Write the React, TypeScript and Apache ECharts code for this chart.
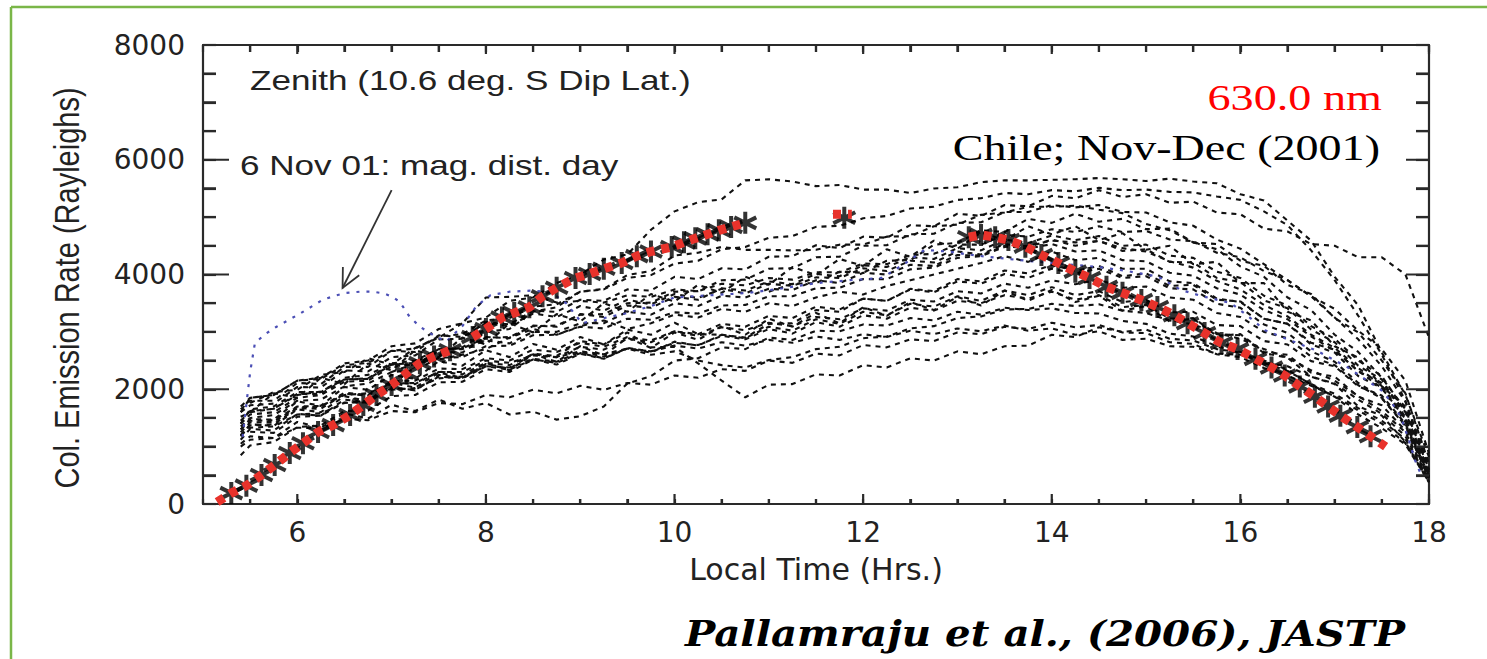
import React, { useEffect, useRef } from 'react';
import * as echarts from 'echarts';

// ---------- time grid of the nightly curves (hours, local time) ----------
const hours = [
  5.4, 5.5, 5.75, 6.0, 6.25, 6.5, 6.75, 7.0, 7.25, 7.5,
  7.75, 8.0, 8.25, 8.5, 8.75, 9.0, 9.25, 9.5, 9.75, 10.0,
  10.25, 10.5, 10.75, 11.0, 11.25, 11.5, 11.75, 12.0, 12.25, 12.5,
  12.75, 13.0, 13.25, 13.5, 13.75, 14.0, 14.25, 14.5, 14.75, 15.0,
  15.25, 15.5, 15.75, 16.0, 16.25, 16.5, 16.75, 17.0, 17.25, 17.5,
  17.75, 18.0,
];

// ---------- daily column emission rates (Rayleighs) ----------
const day01 = [1180,1390,1360,1650,1600,1880,1790,2110,2030,2290, 2200,2460,2330,2610,2480,2750,2590,2900,2720,2990, 2860,3100,2950,3230,3090,3330,3150,3430,3280,3520, 3380,3610,3460,3720,3540,3730,3520,3630,3370,3450, 3180,3230,2930,2960,2650,2600,2290,2220,1870,1720, 1280,560];
const day02 = [1520,1600,1930,1850,2200,2090,2450,2330,2680,2560, 2900,2780,3150,2990,3310,3180,3500,3350,3660,3530, 3820,3680,3960,3820,4130,3990,4270,4150,4440,4310, 4590,4450,4730,4600,4840,4700,4840,4600,4720,4430, 4500,4180,4220,3850,3850,3350,3200,2750,2550,2050, 1700,650];
const day03 = [1050,1180,1150,1430,1330,1580,1490,1730,1620,1820, 1660,1760,1560,1610,1470,1530,1700,2100,2230,2500, 2540,2730,2700,2900,2860,3020,3010,3130,3110,3240, 3200,3350,3300,3420,3380,3410,3330,3320,3190,3140, 2970,2920,2750,2650,2460,2320,2090,1920,1670,1450, 1130,420];
const day04 = [1300,1480,1470,1790,1710,2040,1990,2250,2180,2490, 2410,2680,2560,2790,2690,2910,2780,2990,2730,2740, 2450,2150,1860,2080,2090,2260,2240,2420,2380,2540, 2500,2660,2610,2750,2760,2950,2910,3080,3000,3040, 2880,2850,2700,2640,2500,2340,2080,1870,1560,1320, 1040,380];
const day05 = [null,1760,1950,1990,2250,2300,2540,2430,2720,2900, 3150,3250,3540,3600,3850,4000,4260,4350,4780,5100, 5260,5310,5640,5660,5620,5540,5560,5480,5480,5420, 5500,5520,5610,5640,5640,5650,5660,5680,5660,5630, 5670,5620,5590,5400,5290,4940,4590,3960,3460,2640, 1900,820];
const day06 = [1600,1720,1750,2040,2030,2330,2310,2560,2590,2870, 2880,3170,3130,3370,3350,3560,3540,3740,3720,3960, 3920,4110,4090,4310,4320,4510,4460,4660,4640,4860, 4840,5060,5020,5210,5190,5370,5330,5470,5350,5400, 5250,5270,5080,5050,4800,4750,4530,4500,4300,4300, 4000,2900];
const day07 = [1400,1560,1600,1850,1900,2130,2150,2400,2430,2670, 2730,3000,3050,3350,3430,3700,3750,3990,4060,4330, 4380,4480,4430,4430,4420,4430,4520,4520,4660,4670, 4840,4870,5040,5080,5180,5180,5200,5130,5070,4880, 4770,4560,4440,4140,3960,3600,3380,2950,2650,2200, 1650,600];
const day08 = [1700,1850,1900,2150,2180,2420,2460,2670,2710,2920, 2960,3200,3240,3440,3480,3700,3740,3940,3990,4190, 4240,4440,4480,4640,4670,4830,4850,4980,5020,5150, 5180,5300,5330,5420,5400,5470,5450,5510,5470,5480, 5440,5430,5360,5300,5100,4860,4420,3900,3280,2600, 1800,600];
const day09 = [1350,1500,1550,1800,1820,2050,2100,2300,2330,2550, 2560,2750,2760,2940,2950,3090,3060,3230,3210,3340, 3320,3460,3470,3620,3620,3760,3770,3920,3920,4090, 4120,4290,4320,4480,4500,4590,4560,4580,4460,4400, 4230,4120,3890,3740,3470,3270,2950,2720,2370,2070, 1480,480];
const day10 = [1250,1420,1430,1690,1690,1940,1900,2140,2150,2360, 2350,2540,2500,2690,2650,2810,2740,2910,2850,3010, 2930,3080,3030,3160,3100,3260,3220,3410,3370,3560, 3530,3710,3670,3840,3770,3900,3830,3910,3770,3790, 3600,3560,3330,3260,3000,2890,2570,2420,2070,1840, 1360,450];
const day11 = [1450,1620,1660,1920,1920,2170,2190,2440,2420,2660, 2640,2910,2890,3110,3090,3310,3260,3460,3420,3610, 3560,3760,3720,3880,3830,4010,3970,4160,4130,4300, 4270,4460,4420,4610,4550,4680,4600,4670,4500,4520, 4330,4290,4050,3940,3630,3460,3100,2880,2500,2230, 1610,550];
const day12 = [null,1260,1240,1520,1540,1770,1770,2020,1990,2220, 2190,2400,2340,2520,2460,2630,2540,2710,2640,2830, 2760,2950,2890,3090,3020,3220,3140,3350,3290,3490, 3440,3620,3540,3720,3640,3780,3640,3710,3520,3560, 3340,3350,3120,3100,2840,2780,2490,2400,2050,1890, 1400,500];
const day13 = [1600,1850,1900,2150,2200,2450,2500,2750,2800,3050, 3150,3600,3610,3640,3510,3540,3510,3640,3610,3740, 3710,3840,3810,3940,3910,4040,4040,4190,4180,4340, 4360,4520,4520,4690,4660,4790,4740,4840,4740,4760, 4610,4580,4380,4300,4060,3900,3620,3400,3020,2700, 2150,880];
const day14 = [1300,1450,1460,1700,1710,1900,1930,2100,2110,2300, 2300,2500,2460,2590,2560,2660,2610,2710,2660,2760, 2710,2820,2760,2860,2810,2920,2860,2960,2910,3020, 2960,3060,3010,3110,3020,3060,2950,3010,2860,2880, 2750,2740,2620,2600,2470,2400,2220,2100,1820,1570, 1180,400];
const day15 = [null,1600,1660,1900,1960,2170,2180,2430,2460,2700, 2710,2900,2910,3100,3110,3300,3310,3500,3510,3700, 3710,3900,3910,4100,4110,4300,4310,4500,4510,4700, 4710,4900,4910,5090,5090,5210,5170,5210,5090,5080, 4910,4850,4610,4450,4180,3900,3620,3250,2870,2400, 1780,650];
const day16 = [1200,1370,1390,1670,1660,1920,1890,2120,2090,2310, 2260,2460,2420,2610,2560,2740,2690,2880,2820,3010, 2960,3140,3090,3280,3240,3440,3390,3580,3540,3740, 3690,3880,3840,4010,3940,4100,4020,4100,3940,3970, 3760,3740,3490,3420,3130,2980,2660,2480,2110,1850, 1370,450];
const day17 = [1400,1650,1700,1950,1950,2200,2250,2450,2500,2700, 2700,2850,2800,3000,3000,3150,3150,3350,3300,3500, 3450,3630,3600,3750,3730,3900,3850,4030,4000,4170, 4150,4340,4330,4500,4450,4530,4400,4420,4250,4230, 4030,3980,3760,3650,3380,3220,2920,2670,2320,2020, 1480,500];
const day18 = [null,null,null,null,null,null,null,null,null,null, null,null,null,null,null,null,null,null,null,null, null,null,null,3700,3840,3850,4050,4030,4240,4250, 4520,4550,4770,4740,4970,4900,5060,4920,4970,4790, 4800,4560,4530,4240,4150,3820,3660,3240,2990,2500, 1930,700];
const day19 = [null,null,null,null,null,null,null,2300,2450,2520, 2600,2700,2900,3050,2950,3100,3200,3050,3150,3300, 3250,3400,3350,3500,3450,3600,3700,3650,3800,3900, 4000,4100,4200,4320,4220,4400,4250,4290,4100,4100, 3880,3850,3580,3520,3230,3140,2810,2690,2310,2110, 1600,550];
const day20 = [1650,1800,1800,2110,2090,2390,2390,2670,2650,2940, 2910,3150,3100,3320,3260,3450,3370,3560,3480,3660, 3590,3750,3670,3840,3800,3950,3940,4110,4060,4240, 4210,4400,4350,4530,4480,4610,4500,4590,4410,4440, 4220,4210,3940,3870,3550,3410,3040,2820,2410,2170, 1510,520];
const day21 = [850,1020,1080,1340,1370,1620,1630,1880,1900,2120, 2130,2350,2300,2520,2430,2620,2530,2720,2660,2810, 2770,2930,2870,3050,2970,3170,3090,3290,3230,3420, 3370,3540,3500,3640,3580,3700,3560,3640,3430,3470, 3230,3240,2960,2940,2630,2550,2220,2090,1700,1540, 1080,380];
const day22 = [1120,1310,1280,1570,1540,1820,1770,2040,1980,2250, 2190,2440,2360,2620,2580,2840,2780,3040,2950,3160, 2960,2950,2900,3140,3150,3380,3350,3580,3540,3750, 3710,3920,3880,4070,4020,4170,4060,4150,3970,4020, 3800,3820,3560,3530,3230,3140,2780,2640,2230,2020, 1430,470];
const day23 = [1000,1120,1150,1330,1320,1480,1460,1620,1600,1760, 1740,1900,1860,1990,1930,2060,1990,2110,2080,2240, 2200,2350,2320,2500,2460,2620,2590,2770,2730,2870, 2840,2990,2960,3090,3050,3160,3080,3120,2990,2980, 2820,2790,2610,2560,2370,2240,2060,1880,1630,1400, 1060,380];
const day24 = [1200,1330,1350,1560,1580,1760,1800,1990,2020,2190, 2220,2400,2380,2530,2480,2650,2570,2710,2600,2660, 2500,2420,2380,2510,2560,2700,2740,2890,2920,3060, 3100,3240,3270,3390,3400,3490,3450,3480,3370,3330, 3200,3130,2980,2880,2700,2550,2330,2150,1880,1620, 1250,430];

const dayCurves = [day01, day02, day03, day04, day05, day06, day07, day08, day09, day10, day11, day12,
  day13, day14, day15, day16, day17, day18, day19, day20, day21, day22, day23, day24];

// ---------- 6 Nov 01 (magnetically disturbed day) ----------
const blueHours = [5.42,5.45,5.5,5.55,5.65,5.78,5.9,6.03,6.15,6.27,6.4,6.52,6.66,6.8,6.92,7.01,7.08,7.12,7.19,7.3,
  7.44,7.58,7.75,7.9,8.05,8.25,8.5,8.7,8.85,9.02,9.25,9.48,9.75,10.0,10.4,10.79,11.15,11.5,11.85,12.2,
  12.45,12.65,12.9,13.2,13.6,14.0,14.5,14.8,15.13,15.37,15.6,15.9,16.1,16.26,16.5,16.8,17.13,17.3,17.49,17.6,
  17.7,17.78,17.85,17.93];
const blueValues = [1170,1600,2300,2800,2950,3090,3200,3320,3440,3560,3630,3680,3700,3700,3670,3610,3530,3440,3265,3090,
  2945,2830,3100,3450,3640,3700,3720,3680,3500,3150,3240,3320,3450,3600,3640,3680,3760,3850,3900,3940,
  4200,4430,4400,4330,4260,4200,4130,4060,3960,3730,3620,3500,3250,3030,2870,2680,2390,2200,1990,1780,
  1520,1150,770,450];

// ---------- average behaviour (asterisks + red dotted fit) ----------
const riseHours = [5.15,5.3,5.46,5.62,5.76,5.92,6.06,6.22,6.38,6.56,6.7,6.84,7.0,7.16,7.3,7.45,7.62];
const riseValues = [35,190,320,505,680,890,1060,1255,1375,1550,1725,1900,2075,2280,2455,2570,2680];
const morningHours = [7.86,8.0,8.17,8.3,8.46,8.6,8.75,8.95,9.1,9.25,9.44,9.6,9.75,9.97,10.1,10.22,10.35,10.47,10.6,10.75];
const morningValues = [2910,3050,3250,3330,3430,3620,3770,3940,4010,4100,4200,4320,4400,4480,4560,4630,4700,4770,4830,4900];
const noonHours = [11.68,11.88];
const noonValues = [5050,5050];
const noonStarHours = [11.8];
const noonStarValues = [4990];
const fallHours = [13.12,13.25,13.4,13.54,13.72,13.89,14.07,14.25,14.4,14.58,14.75,14.95,15.12,15.3,15.44,15.62,15.8,15.97,
  16.16,16.33,16.47,16.63,16.79,16.93,17.06,17.24,17.38,17.54];
const fallValues = [4650,4690,4650,4600,4485,4340,4200,4050,3940,3785,3680,3555,3435,3290,3150,2980,2805,2700,
  2530,2380,2240,2050,1870,1700,1540,1340,1180,1000];

// ---------- tick positions ----------
const majorHours = [6, 8, 10, 12, 14, 16, 18];
const minorHours = [5.5, 6.5, 7, 7.5, 8.5, 9, 9.5, 10.5, 11, 11.5, 12.5, 13, 13.5, 14.5, 15, 15.5, 16.5, 17, 17.5];
const majorRates = [2000, 4000, 6000];
const minorRates = [500, 1000, 1500, 2500, 3000, 3500, 4500, 5000, 5500, 6500, 7000, 7500];

const pairs = (xs: number[], ys: (number | null)[]) =>
  xs.map((x, i) => [x, ys[i]]).filter((p) => p[1] !== null && p[1] !== undefined);

const AXIS = '#2a2a2a';
const STAR = 'path://M10,0L10,20M1.34,5L18.66,15M1.34,15L18.66,5';
const GRID = { left: 203, right: 58, top: 45, bottom: 155 };

export default function App() {
  const ref = useRef<HTMLDivElement>(null);

  useEffect(() => {
    if (!ref.current) return;
    const chart = echarts.init(ref.current, undefined, { renderer: 'svg' });

    // tick lengths expressed in axis units (from the plot size)
    const plotW = chart.getWidth() - GRID.left - GRID.right;
    const plotH = chart.getHeight() - GRID.top - GRID.bottom;
    const hPerPx = (18 - 5) / plotW;
    const rPerPx = 8000 / plotH;
    const tickData: any[] = [];
    const addTick = (a: number[], b: number[]) => { tickData.push(a, b, [a[0], null]); };
    majorHours.forEach((h) => { addTick([h, 0], [h, 10 * rPerPx]); addTick([h, 8000], [h, 8000 - 9 * rPerPx]); });
    minorHours.forEach((h) => { addTick([h, 0], [h, 5 * rPerPx]); addTick([h, 8000], [h, 8000 - 7 * rPerPx]); });
    majorRates.forEach((r) => { addTick([5, r], [5 + 26 * hPerPx, r]); addTick([18, r], [18 - 23 * hPerPx, r]); });
    minorRates.forEach((r) => { addTick([5, r], [5 + 13 * hPerPx, r]); addTick([18, r], [18 - 13 * hPerPx, r]); });

    const dashed = dayCurves.map((d, i) => ({
      name: 'Day ' + (i + 1),
      type: 'line',
      data: pairs(hours, d),
      showSymbol: false,
      symbol: 'none',
      lineStyle: { color: '#111', width: 2.1, type: [5, 5] },
      z: 2,
      silent: true,
    }));

    const starSeries = (xs: number[], ys: number[], name: string) => ({
      name,
      type: 'scatter',
      data: pairs(xs, ys),
      symbol: STAR,
      symbolSize: 22,
      itemStyle: { color: '#000', borderColor: '#000', borderWidth: 4 },
      z: 4,
      silent: true,
    });

    const redSeries = (xs: number[], ys: number[], name: string) => ({
      name,
      type: 'line',
      data: pairs(xs, ys),
      showSymbol: false,
      symbol: 'none',
      lineStyle: { color: '#e8322b', width: 9, type: [8, 7], cap: 'butt' },
      z: 5,
      silent: true,
    });

    const tickStyle = { color: AXIS, width: 2.2 };

    const option: any = {
      animation: false,
      backgroundColor: '#fff',
      grid: { ...GRID },
      xAxis: [
        {
          type: 'value', position: 'bottom', min: 5, max: 18, interval: 0.5,
          axisLine: { show: true, onZero: false, lineStyle: { color: AXIS, width: 2.2 } },
          axisTick: { show: true, inside: true, length: 5, lineStyle: tickStyle },
          axisLabel: {
            show: true, margin: 14, fontSize: 28, fontFamily: 'DejaVu Sans', color: '#222',
            formatter: (v: number) => (v % 2 === 0 ? String(v) : ''),
          },
          splitLine: { show: false },
          name: 'Local Time (Hrs.)', nameLocation: 'middle', nameGap: 50,
          nameTextStyle: { fontSize: 30, fontFamily: 'DejaVu Sans', color: '#222' },
        },
        {
          type: 'value', position: 'top', min: 5, max: 18, interval: 0.5,
          axisLine: { show: true, onZero: false, lineStyle: { color: AXIS, width: 2.2 } },
          axisTick: { show: true, inside: true, length: 7, lineStyle: tickStyle },
          axisLabel: { show: false }, splitLine: { show: false },
        },
      ],
      yAxis: [
        {
          type: 'value', position: 'left', min: 0, max: 8000, interval: 500,
          axisLine: { show: true, onZero: false, lineStyle: { color: AXIS, width: 2.2 } },
          axisTick: { show: true, inside: true, length: 13, lineStyle: tickStyle },
          axisLabel: {
            show: true, margin: 18, fontSize: 28, fontFamily: 'DejaVu Sans', color: '#222',
            formatter: (v: number) => (v % 2000 === 0 ? String(v) : ''),
          },
          splitLine: { show: false },
        },
        {
          type: 'value', position: 'right', min: 0, max: 8000, interval: 500,
          axisLine: { show: true, onZero: false, lineStyle: { color: AXIS, width: 2.2 } },
          axisTick: { show: true, inside: true, length: 13, lineStyle: tickStyle },
          axisLabel: { show: false }, splitLine: { show: false },
        },
      ],
      series: [
        ...dashed,
        {
          name: '6 Nov 01',
          type: 'line',
          data: pairs(blueHours, blueValues),
          showSymbol: false,
          symbol: 'none',
          lineStyle: { color: '#4b4fb5', width: 2.2, type: [3, 7] },
          z: 3,
          silent: true,
        },
        starSeries(riseHours.slice(1), riseValues.slice(1), 'obs rise'),
        starSeries(morningHours, morningValues, 'obs morning'),
        starSeries(noonStarHours, noonStarValues, 'obs noon'),
        starSeries(fallHours.slice(0, -1), fallValues.slice(0, -1), 'obs fall'),
        redSeries(riseHours, riseValues, 'fit rise'),
        redSeries(morningHours, morningValues, 'fit morning'),
        redSeries(noonHours, noonValues, 'fit noon'),
        redSeries(fallHours, fallValues, 'fit fall'),
        {
          name: 'ticks',
          type: 'line',
          data: tickData,
          connectNulls: false,
          showSymbol: false,
          symbol: 'none',
          clip: false,
          lineStyle: { color: AXIS, width: 2.2, type: 'solid', cap: 'butt' },
          z: 6,
          silent: true,
        },
      ],
    };
    chart.setOption(option);

    const px = (x: number, y: number): number[] => {
      const p = chart.convertToPixel({ xAxisIndex: 0, yAxisIndex: 0 }, [x, y]) as number[];
      return [p[0], p[1]];
    };

    // arrow pointing at the disturbed-day curve (data coordinates)
    const tail = px(7.0, 5470);
    const tip = px(6.48, 3765);
    const dx = tail[0] - tip[0];
    const dy = tail[1] - tip[1];
    const len = Math.sqrt(dx * dx + dy * dy);
    const ux = dx / len, uy = dy / len;
    const arm = (a: number) => [
      tip[0] + 21 * (ux * Math.cos(a) - uy * Math.sin(a)),
      tip[1] + 21 * (ux * Math.sin(a) + uy * Math.cos(a)),
    ];
    const a1 = arm(0.45);
    const a2 = arm(-0.45);

    const sans = 'Liberation Sans, Arial, Helvetica, sans-serif';
    const serif = 'Liberation Serif, Times New Roman, serif';

    chart.setOption({
      graphic: {
        elements: [
          { type: 'line', shape: { x1: 11, y1: 7, x2: 1487, y2: 7 }, style: { stroke: '#7ab648', lineWidth: 2.5 } },
          { type: 'line', shape: { x1: 11, y1: 7, x2: 11, y2: 659 }, style: { stroke: '#7ab648', lineWidth: 2.5 } },
          {
            type: 'text', x: 67, y: 288, rotation: Math.PI / 2, scaleY: 1.22,
            style: { text: 'Col. Emission Rate (Rayleighs)', fontSize: 29, fontFamily: sans, fill: '#222', align: 'center', verticalAlign: 'middle' },
          },
          {
            type: 'text', x: 250, y: 81, scaleX: 1.3,
            style: { text: 'Zenith (10.6 deg. S Dip Lat.)', fontSize: 27, fontFamily: sans, fill: '#222', align: 'left', verticalAlign: 'middle' },
          },
          {
            type: 'text', x: 240, y: 166, scaleX: 1.3,
            style: { text: '6 Nov 01: mag. dist. day', fontSize: 27, fontFamily: sans, fill: '#222', align: 'left', verticalAlign: 'middle' },
          },
          { type: 'line', shape: { x1: tail[0], y1: tail[1], x2: tip[0], y2: tip[1] }, style: { stroke: '#333', lineWidth: 1.8 } },
          { type: 'polyline', shape: { points: [a1, tip, a2] }, style: { stroke: '#333', lineWidth: 1.8, fill: null } },
          {
            type: 'text', x: 1382, y: 98, scaleX: 1.32,
            style: { text: '630.0 nm', fontSize: 35, fontFamily: serif, fill: '#ff0000', align: 'right', verticalAlign: 'middle' },
          },
          {
            type: 'text', x: 1380, y: 148, scaleX: 1.28,
            style: { text: 'Chile; Nov-Dec (2001)', fontSize: 36, fontFamily: serif, fill: '#000', align: 'right', verticalAlign: 'middle' },
          },
          {
            type: 'text', x: 685, y: 633, scaleX: 1.12,
            style: {
              text: 'Pallamraju et al., (2006), JASTP', fontSize: 36, fontFamily: 'DejaVu Serif, serif',
              fontWeight: 'bold', fontStyle: 'italic', fill: '#000', align: 'left', verticalAlign: 'middle',
            },
          },
        ],
      },
    });

    return () => chart.dispose();
  }, []);

  return (
    <div
      ref={ref}
      style={{ position: 'absolute', left: 0, top: 0, width: 1487, height: 659, background: '#fff' }}
    />
  );
}
